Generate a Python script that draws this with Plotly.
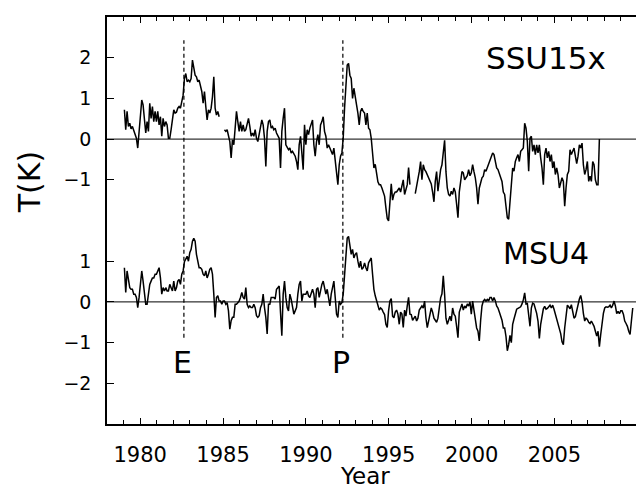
import numpy as np
import plotly.graph_objects as go

# digitised anomalies (K), one value per ~0.08 yr starting 1979.05; None = missing
T_START = 1979.05
T_STEP = 0.0805

ssu15x_anom = [
    0.72, 0.23, 0.68, 0.31, 0.39, 0.25, 0.31, 0.20, 0.15, 0.02,
    -0.22, 0.19, 0.55, 0.96, 0.84, 0.43, 0.15, 0.43, 0.19, 0.88,
    0.51, 0.80, 0.43, 0.68, 0.43, 0.68, 0.35, 0.55, 0.07, 0.51,
    0.31, 0.43, 0.35, 0.02, 0.02, 0.23, 0.43, 0.72, 0.64, 0.66,
    0.76, 0.80, 0.76, 0.96, 1.08, 1.49, 1.61, 1.41, 1.45, 1.41,
    1.49, 1.94, 1.74, 1.57, 1.53, 1.41, 1.45, 1.33, 1.17, 0.88,
    1.17, 0.80, 0.47, 0.72, 0.64, 0.76, 1.04, 1.53, 0.76, 0.59,
    0.68, 0.55, None, None, None, 0.23, 0.19, 0.23, 0.11, -0.06,
    -0.46, -0.02, -0.14, 0.35, 0.68, 0.43, 0.19, 0.43, 0.19, 0.35,
    0.19, 0.23, 0.35, 0.51, 0.31, 0.07, 0.15, 0.07, 0.23, 0.02,
    -0.06, 0.11, 0.35, 0.47, 0.35, 0.02, -0.67, 0.19, 0.43, 0.47,
    0.27, 0.31, 0.23, 0.27, 0.15, 0.07, 0.02, -0.71, 0.19, 0.51,
    0.76, -0.14, -0.22, -0.26, -0.22, -0.34, -0.30, -0.38, -0.42, -0.55,
    -0.75, -0.14, 0.07, -0.34, -0.75, 0.35, -0.14, 0.23, 0.11, 0.27,
    0.35, 0.47, -0.14, -0.42, -0.06, 0.11, -0.14, 0.35, 0.43, 0.55,
    0.19, 0.07, -0.22, -0.14, -0.22, -0.30, -0.38, -0.22, -0.55, -0.95,
    -1.12, -0.63, -0.42, -0.34, 0.02, 0.76, 1.49, 1.82, 1.86, 1.57,
    1.49, 1.00, 1.25, 1.08, 0.84, 0.64, 0.35, 0.68, 0.76, 0.68,
    0.64, 0.35, 0.64, 0.27, 0.23, 0.02, -0.42, -0.71,
    -0.62, -0.85, -1.05, -1.12, -1.12, -1.20, -1.28, -1.40, -1.69, -1.95,
    -2.01, -1.52, -1.10, -1.50, -1.36, -1.30, -1.30, -1.25, -1.20, -1.30,
    -1.10, -1.00, -1.36, -1.20, -1.12, -0.70, -1.12, None, None, None,
    -1.34, -1.18, -1.04, -0.80, -0.55, -1.00, -0.63, -0.75, -0.80, -0.87,
    -0.93, -1.00, -1.10, -1.30, -1.54, -1.04, -0.80, -1.28, -1.00, -0.75,
    -0.63, -0.30, -0.03, -0.80, -1.20, -1.36, -1.40, -1.28, -1.36, -1.20,
    -1.30, -1.60, -1.93, -1.30, -1.00, -0.80, -0.83, -1.00, -0.95, -0.90,
    -0.75, -0.90, -0.83, -0.63, -0.80, -0.95, -1.20, -1.60, -1.20, -1.04,
    -0.95, -0.91, -0.75, -0.79, -0.70, -0.62, -0.55, -0.42, -0.34, -0.38,
    -0.55, -0.71, -0.75, -0.87, -0.95, -1.04, -1.30,
    -1.36, -1.65, -1.93, -1.97, -1.52, -1.28, -0.71, -0.79, -0.55, -0.46,
    -0.38, -0.55, -0.30, -0.26, -0.22, 0.39, 0.27, -0.06, -0.79, 0.02,
    0.07, -0.30, -0.14, -0.38, -0.14, -0.34, -0.14, -0.46, -0.71, -1.12,
    -0.38, -0.22, -0.46, -0.30, -0.55, -0.38, -0.71, -0.55, -0.87, -0.71,
    -0.87, -1.20, -1.04, -0.95, -1.04, -1.65, -1.20, -0.87, -0.79, -0.26,
    -0.38, -0.30, -0.22, -0.42, -0.60, -0.42, -0.14, -0.22, -0.10, -0.63,
    -0.87, -0.75, -0.55, -1.04, -0.91, -1.04, -0.55, -0.63, -1.00, -1.12,
    -1.12, 0.0,
]

msu4_anom = [
    0.84, 0.23, 0.76, 0.59, 0.35, 0.31, 0.31, 0.19, 0.19, 0.11,
    -0.14, 0.11, 0.51, 0.76, 0.51, 0.19, -0.06, -0.06, 0.19, 0.43,
    0.51, 0.59, 0.59, 0.68, 0.68, 0.76, 0.84, 0.59, 0.19, 0.35,
    0.27, 0.35, 0.27, 0.27, 0.43, 0.35, 0.27, 0.51, 0.27, 0.35,
    0.51, 0.55, 0.43, 0.68, 0.76, 0.99, 1.04, 1.12, 1.00, 1.21,
    1.29, 1.49, 1.56, 1.49, 1.17, 0.96, 0.84, 0.84, 0.80, 0.68,
    0.64, 0.76, 0.59, 0.68, 0.80, 0.84, 0.68, 0.19, -0.38, 0.11,
    0.15, 0.02, 0.02, -0.06, 0.02, 0.02, -0.06, -0.02, -0.22, -0.67,
    -0.46, -0.38, -0.38, -0.06, -0.06, -0.02, 0.02, 0.11, 0.23, 0.11,
    0.07, 0.35, -0.06, -0.14, -0.10, -0.14, -0.14, -0.06, -0.14, -0.34,
    -0.38, -0.34, -0.14, -0.06, 0.19, -0.14, -0.38, -0.79, -0.06, -0.06,
    0.11, 0.11, 0.11, 0.07, 0.31, 0.35, 0.39, -0.26, -0.83, 0.19,
    0.51, 0.11, -0.14, -0.22, 0.19, 0.07, -0.14, -0.30, -0.22, -0.14,
    0.19, 0.43, 0.51, 0.02, 0.19, 0.19, 0.19, 0.27, 0.15, 0.11,
    0.23, 0.31, 0.19, -0.14, 0.31, 0.35, 0.11, 0.31, 0.43, 0.51,
    0.35, 0.19, 0.31, 0.11, -0.10, 0.19, 0.35, 0.51, 0.11, -0.30,
    -0.38, 0.02, -0.06, -0.02, 0.19, 0.68, 1.33, 1.57, 1.61, 1.33,
    1.17, 1.29, 1.08, 1.17, 1.21, 1.00, 0.84, 1.00, 0.80, 0.84,
    0.96, 0.84, 0.76, 0.96, 1.04, 1.08, 0.68, 0.31,
    0.15, 0.05, -0.07, -0.20, -0.15, -0.18, -0.25, -0.31, -0.55, -0.63,
    -0.22, 0.02, 0.08, -0.35, -0.39, -0.25, -0.20, -0.30, -0.55, -0.25,
    -0.30, -0.63, -0.20, -0.35, -0.10, 0.11, -0.30, -0.31, -0.45, -0.40,
    -0.35, -0.47, -0.40, -0.20, -0.15, -0.10, -0.15, 0.02, -0.39, -0.63,
    -0.47, -0.25, -0.15, -0.25, -0.40, -0.45, -0.50, -0.40, -0.15, 0.10,
    0.20, 0.64, 0.18, -0.40, -0.55, -0.45, -0.35, -0.47, -0.15, -0.30,
    -0.35, -0.60, -0.88, -0.25, -0.15, -0.05, -0.20, -0.10, -0.15, -0.05,
    -0.10, 0.00, -0.30, 0.02, -0.20, -0.40, -0.64, -0.72, -0.96, -0.45,
    -0.10, 0.02, 0.06, 0.02, 0.06, 0.02, 0.11, 0.11, 0.02, 0.11,
    0.03, -0.10, -0.15, -0.25, -0.35, -0.45, -0.64,
    -0.64, -0.85, -1.20, -1.05, -0.82, -1.00, -0.55, -0.42, -0.30, -0.18,
    -0.16, -0.13, -0.12, -0.05, 0.05, 0.22, -0.05, -0.04, -0.35, -0.60,
    -0.15, -0.03, -0.05, -0.15, -0.28, -0.47, -0.90, -0.55, -0.30, -0.17,
    -0.11, -0.18, -0.16, -0.12, -0.08, -0.15, -0.08, -0.18, -0.30, -0.42,
    -0.55, -0.62, -0.78, -0.98, -1.05, -0.64, -0.30, -0.08, -0.12, -0.17,
    -0.07, -0.28, -0.40, -0.36, -0.20, -0.07, 0.07, 0.16, 0.00, -0.28,
    -0.47, -0.40, -0.43, -0.50, -0.53, -0.47, -0.53, -0.60, -0.72, -0.84,
    -0.72, -1.10, -0.80, -0.45, -0.28, -0.15, -0.12, -0.13, -0.12, -0.08,
    -0.15, -0.08, 0.02, -0.10, -0.29, -0.23, -0.29, -0.22, -0.22, -0.30,
    -0.47, -0.53, -0.60, -0.72, -0.80, -0.47, -0.15,
]

SSU_OFFSET = 4.0
eruption_years = [1982.64, 1992.23]
eruption_labels = ["E", "P"]
year_ticks = [1980, 1985, 1990, 1995, 2000, 2005]
lower_ticks = [-2, -1, 0, 1]
upper_ticks = [-1, 0, 1, 2]

FONT = "DejaVu Sans"


def series_x(vals):
    return T_START + T_STEP * np.arange(len(vals))


ssu_y = [None if v is None else v + SSU_OFFSET for v in ssu15x_anom]

fig = go.Figure()

# zero lines for both series
for base in (0.0, SSU_OFFSET):
    fig.add_shape(type="line", xref="paper", x0=0, x1=1, y0=base, y1=base,
                  line=dict(color="black", width=1))

# volcanic eruption markers
for yr in eruption_years:
    fig.add_trace(go.Scatter(x=[yr, yr], y=[-0.88, 6.43], mode="lines",
                             line=dict(color="black", width=1.2, dash="4px,3px"),
                             hoverinfo="skip", showlegend=False))

fig.add_trace(go.Scatter(x=series_x(ssu_y), y=ssu_y, mode="lines",
                         line=dict(color="black", width=1.5), name="SSU15x",
                         showlegend=False))
fig.add_trace(go.Scatter(x=series_x(msu4_anom), y=msu4_anom, mode="lines",
                         line=dict(color="black", width=1.5), name="MSU4",
                         showlegend=False))

label_font = dict(family=FONT, size=30, color="black")
fig.add_annotation(x=2004.5, y=5.99, text="SSU15x", showarrow=False,
                   xanchor="center", yanchor="middle",
                   font=dict(family=FONT, size=31, color="black"))
fig.add_annotation(x=2004.5, y=1.19, text="MSU4", showarrow=False,
                   xanchor="center", yanchor="middle", font=label_font)
for yr, lab in zip(eruption_years, eruption_labels):
    fig.add_annotation(x=yr - 0.1, y=-1.5, text=lab, showarrow=False,
                       xanchor="center", yanchor="middle", font=label_font)

fig.add_annotation(xref="paper", yref="paper", x=-0.1453, y=0.594, text="T(K)",
                   textangle=-90, showarrow=False, xanchor="center", yanchor="middle",
                   font=label_font)
fig.add_annotation(xref="paper", yref="paper", x=0.4804, y=-0.128, text="Year",
                   showarrow=False, xanchor="center", yanchor="middle",
                   font=dict(family=FONT, size=23, color="black"))

fig.update_xaxes(
    range=[1978, 2010.4],
    tickmode="array", tickvals=year_ticks, ticktext=[str(y) for y in year_ticks],
    ticks="inside", ticklen=6, tickwidth=1.2, tickcolor="black",
    minor=dict(tickmode="linear", tick0=1978, dtick=1, ticks="inside",
               ticklen=4, tickwidth=1, tickcolor="black"),
    showline=True, linecolor="black", linewidth=1.5, mirror="ticks",
    showgrid=False, zeroline=False,
    tickfont=dict(family=FONT, size=21, color="black"),
    ticklabelstandoff=11,
)
fig.update_yaxes(
    range=[-3, 7],
    tickmode="array",
    tickvals=lower_ticks + [t + SSU_OFFSET for t in upper_ticks],
    ticktext=[str(t).replace("-", "\u2212") for t in lower_ticks + upper_ticks],
    ticks="inside", ticklen=7, tickwidth=1.2, tickcolor="black",
    showline=True, linecolor="black", linewidth=1.5,
    showgrid=False, zeroline=False,
    tickfont=dict(family=FONT, size=19, color="black"),
    ticklabelstandoff=10,
)

# the page body adds an 8px offset, so the margins are shifted to compensate
fig.update_layout(
    width=644, height=489,
    margin=dict(l=99, r=8, t=7, b=73),
    paper_bgcolor="white", plot_bgcolor="white",
    showlegend=False,
)

fig.write_html("out.html")
